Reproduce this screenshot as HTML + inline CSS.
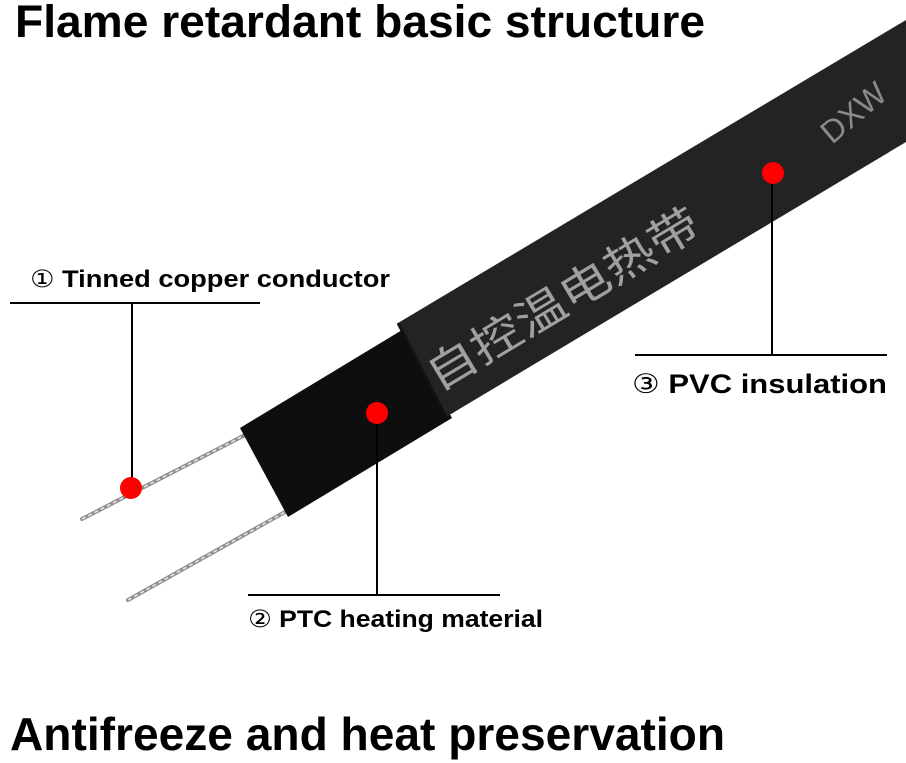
<!DOCTYPE html>
<html><head><meta charset="utf-8"><style>html,body{margin:0;padding:0;background:#fff;}svg{display:block;}</style></head>
<body>
<svg width="906" height="763" viewBox="0 0 906 763" xmlns="http://www.w3.org/2000/svg">
<rect width="906" height="763" fill="#fff"/>
<text x="15" y="37" font-family="Liberation Sans, sans-serif" font-weight="bold" font-size="45" textLength="690" lengthAdjust="spacingAndGlyphs" fill="#000">Flame retardant basic structure</text>
<text x="10" y="750" font-family="Liberation Sans, sans-serif" font-weight="bold" font-size="46" textLength="715" lengthAdjust="spacingAndGlyphs" fill="#000">Antifreeze and heat preservation</text>
<!-- wires -->
<line x1="82" y1="519" x2="245" y2="435" stroke="#8f8f8f" stroke-width="4" stroke-linecap="round"/>
<line x1="82" y1="519" x2="245" y2="435" stroke="#e8e8e8" stroke-width="1.5" stroke-dasharray="4 3"/>
<line x1="128" y1="600" x2="285" y2="512" stroke="#8f8f8f" stroke-width="4" stroke-linecap="round"/>
<line x1="128" y1="600" x2="285" y2="512" stroke="#e8e8e8" stroke-width="1.5" stroke-dasharray="4 3"/>
<!-- inner PTC -->
<polygon points="240,428 402,330 452,418 288,517" fill="#0e0e0e"/>
<!-- jacket -->
<polygon points="398,323 906,20 906,142 446,417" fill="#232324"/>
<line x1="398" y1="323" x2="446" y2="417" stroke="#111" stroke-width="3"/>
<g transform="translate(438,392) rotate(-31)">
<text x="0" y="0" font-family="Noto Sans CJK SC, sans-serif" font-size="44" textLength="310" lengthAdjust="spacingAndGlyphs" fill="#a0a0a0">自控温电热带</text>
</g>
<g transform="translate(832,145) rotate(-40)">
<text x="0" y="0" font-family="Liberation Sans, sans-serif" font-size="32" fill="#8a8a8a">DXW</text>
</g>
<!-- leaders -->
<g stroke="#000" stroke-width="2">
<line x1="10" y1="303" x2="260" y2="303"/>
<line x1="132" y1="303" x2="132" y2="488"/>
<line x1="248" y1="595" x2="500" y2="595"/>
<line x1="377" y1="413" x2="377" y2="595"/>
<line x1="635" y1="355" x2="887" y2="355"/>
<line x1="772" y1="173" x2="772" y2="355"/>
</g>
<circle cx="131" cy="488" r="11" fill="#f00"/>
<circle cx="377" cy="413" r="11" fill="#f00"/>
<circle cx="773" cy="173" r="11" fill="#f00"/>
<g font-family="Liberation Sans, DejaVu Sans, sans-serif" font-weight="bold" fill="#000">
<text x="30" y="287" font-size="24" textLength="360" lengthAdjust="spacingAndGlyphs"><tspan font-weight="normal">①</tspan> Tinned copper conductor</text>
<text x="248" y="627" font-size="24" textLength="295" lengthAdjust="spacingAndGlyphs"><tspan font-weight="normal">②</tspan> PTC heating material</text>
<text x="632" y="393" font-size="27" textLength="255" lengthAdjust="spacingAndGlyphs"><tspan font-weight="normal">③</tspan> PVC insulation</text>
</g>
</svg>
</body></html>
